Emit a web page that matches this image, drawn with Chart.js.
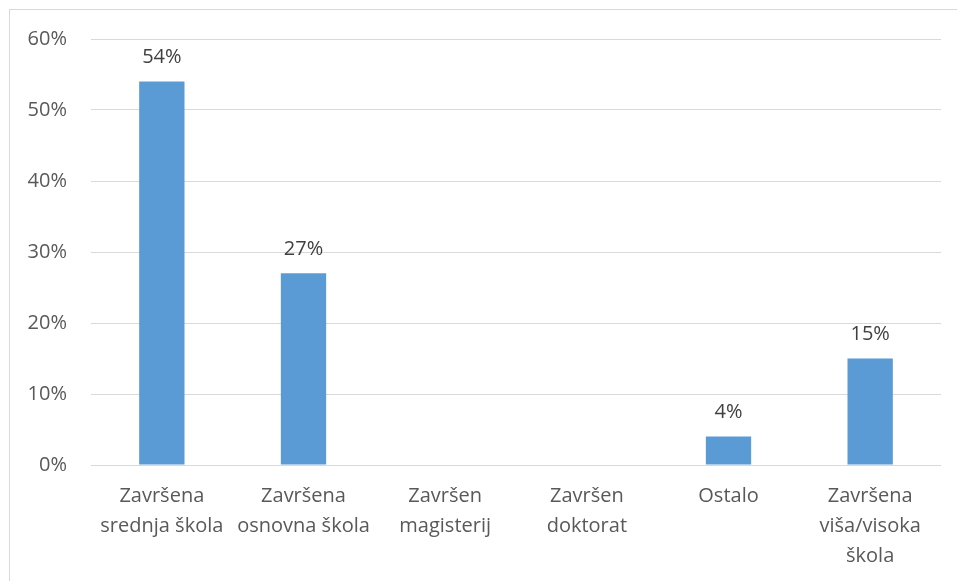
<!DOCTYPE html>
<html>
<head>
<meta charset="utf-8">
<script src="https://cdn.jsdelivr.net/npm/chart.js@4.4.1/dist/chart.umd.min.js"></script>
<style>
  html, body { margin: 0; padding: 0; background: #fff; overflow: hidden; }
  #frame {
    position: absolute; left: 9px; top: 9px; width: 1000px; height: 1000px;
    border-left: 1px solid #d9d9d9; border-top: 1px solid #d9d9d9;
  }
  #wrap { position: absolute; left: 0; top: 0; width: 957px; height: 581px; }
</style>
</head>
<body>
<div id="frame"></div>
<div id="wrap"><canvas id="chart"></canvas></div>
<script>
/* data */
const categories = [
    ["Završena", "srednja škola"],
    ["Završena", "osnovna škola"],
    ["Završen", "magisterij"],
    ["Završen", "doktorat"],
    ["Ostalo"],
    ["Završena", "viša/visoka", "škola"]
];
const percentValues = [54, 27, 0, 0, 4, 15];
const yTicks = [0, 10, 20, 30, 40, 50, 60];

const FONT = "'Open Sans', sans-serif";

/* value labels above bars, zero bars left blank */
const barLabels = {
    id: "barLabels",
    afterDatasetsDraw: (chart) => {
        const ctx = chart.ctx;
        const meta = chart.getDatasetMeta(0);
        ctx.save();
        ctx.font = "20px " + FONT;
        ctx.fillStyle = "#404040";
        ctx.textAlign = "center";
        ctx.textBaseline = "middle";
        meta.data.forEach((bar, i) => {
            const v = percentValues[i];
            if (!v) return;
            ctx.fillText(v + "%", bar.x, bar.y - 24);
        });
        ctx.restore();
    }
};

new Chart(document.getElementById("chart"), {
    type: "bar",
    data: {
        labels: categories,
        datasets: [{
            data: percentValues,
            backgroundColor: "#5b9bd5",
            categoryPercentage: 1,
            barPercentage: 0.32
        }]
    },
    options: {
        responsive: true,
        maintainAspectRatio: false,
        animation: false,
        layout: { padding: { left: 0, right: 16, top: 39, bottom: 0 } },
        plugins: {
            legend: { display: false },
            tooltip: { enabled: false }
        },
        scales: {
            x: {
                grid: { display: false, drawTicks: false },
                border: { display: false },
                ticks: {
                    color: "#595959",
                    font: { family: FONT, size: 20, lineHeight: 1.5 },
                    padding: 16,
                    maxRotation: 0,
                    autoSkip: false
                },
                afterFit: (scale) => { scale.height = 116; }
            },
            y: {
                min: 0,
                max: 60,
                afterBuildTicks: (scale) => {
                    scale.ticks = yTicks.map(v => ({ value: v }));
                },
                grid: { color: "#d9d9d9", lineWidth: 1, drawTicks: false },
                border: { display: false },
                ticks: {
                    color: "#595959",
                    font: { family: FONT, size: 20 },
                    padding: 24,
                    callback: (v) => v + "%"
                },
                afterFit: (scale) => { scale.width = 91; }
            }
        }
    },
    plugins: [barLabels]
});
</script>
</body>
</html>
